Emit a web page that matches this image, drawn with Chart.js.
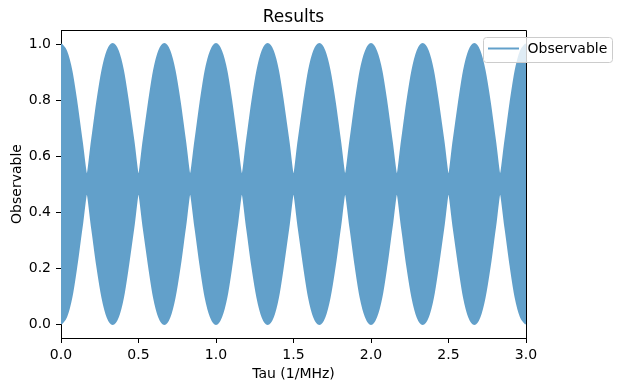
<!DOCTYPE html>
<html>
<head>
<meta charset="utf-8">
<script src="https://cdn.jsdelivr.net/npm/chart.js@4/dist/chart.umd.min.js"></script>
<style>
  body { margin: 0; background: #fff; }
</style>
</head>
<body>
<canvas id="chart" width="622" height="391"></canvas>
<script>
// Tau values (1/MHz)
const tau = [
    0, 0.033, 0.067, 0.1, 0.133, 0.167, 0.2, 0.233, 0.267, 0.3,
    0.333, 0.367, 0.4, 0.433, 0.467, 0.5, 0.533, 0.567, 0.6, 0.633,
    0.667, 0.7, 0.733, 0.767, 0.8, 0.833, 0.867, 0.9, 0.933, 0.967,
    1.0, 1.033, 1.067, 1.1, 1.133, 1.167, 1.2, 1.233, 1.267, 1.3,
    1.333, 1.367, 1.4, 1.433, 1.467, 1.5, 1.533, 1.567, 1.6, 1.633,
    1.667, 1.7, 1.733, 1.767, 1.8, 1.833, 1.867, 1.9, 1.933, 1.967,
    2.0, 2.033, 2.067, 2.1, 2.133, 2.167, 2.2, 2.233, 2.267, 2.3,
    2.333, 2.367, 2.4, 2.433, 2.467, 2.5, 2.533, 2.567, 2.6, 2.633,
    2.667, 2.7, 2.733, 2.767, 2.8, 2.833, 2.867, 2.9, 2.933, 2.967,
    3.0
];

// upper edge of the fast oscillation
const upperEnv = [
    1.0, 0.975, 0.905, 0.79, 0.655, 0.535, 0.655, 0.79, 0.905, 0.975,
    1.0, 0.975, 0.905, 0.79, 0.655, 0.535, 0.655, 0.79, 0.905, 0.975,
    1.0, 0.975, 0.905, 0.79, 0.655, 0.535, 0.655, 0.79, 0.905, 0.975,
    1.0, 0.975, 0.905, 0.79, 0.655, 0.535, 0.655, 0.79, 0.905, 0.975,
    1.0, 0.975, 0.905, 0.79, 0.655, 0.535, 0.655, 0.79, 0.905, 0.975,
    1.0, 0.975, 0.905, 0.79, 0.655, 0.535, 0.655, 0.79, 0.905, 0.975,
    1.0, 0.975, 0.905, 0.79, 0.655, 0.535, 0.655, 0.79, 0.905, 0.975,
    1.0, 0.975, 0.905, 0.79, 0.655, 0.535, 0.655, 0.79, 0.905, 0.975,
    1.0, 0.975, 0.905, 0.79, 0.655, 0.535, 0.655, 0.79, 0.905, 0.975,
    1.0
];

// lower edge
const lowerEnv = [
    0.0, 0.025, 0.095, 0.21, 0.345, 0.465, 0.345, 0.21, 0.095, 0.025,
    0.0, 0.025, 0.095, 0.21, 0.345, 0.465, 0.345, 0.21, 0.095, 0.025,
    0.0, 0.025, 0.095, 0.21, 0.345, 0.465, 0.345, 0.21, 0.095, 0.025,
    0.0, 0.025, 0.095, 0.21, 0.345, 0.465, 0.345, 0.21, 0.095, 0.025,
    0.0, 0.025, 0.095, 0.21, 0.345, 0.465, 0.345, 0.21, 0.095, 0.025,
    0.0, 0.025, 0.095, 0.21, 0.345, 0.465, 0.345, 0.21, 0.095, 0.025,
    0.0, 0.025, 0.095, 0.21, 0.345, 0.465, 0.345, 0.21, 0.095, 0.025,
    0.0, 0.025, 0.095, 0.21, 0.345, 0.465, 0.345, 0.21, 0.095, 0.025,
    0.0, 0.025, 0.095, 0.21, 0.345, 0.465, 0.345, 0.21, 0.095, 0.025,
    0.0
];

const xTicks = [0, 0.5, 1.0, 1.5, 2.0, 2.5, 3.0];
const yTicks = [0, 0.2, 0.4, 0.6, 0.8, 1.0];

const seriesColor = "#62a0ca";
const font = "DejaVu Sans";

// title, axis labels, frame and legend
const decorations = {
    id: "decorations",
    afterDraw(chart) {
        const ctx = chart.ctx;
        const a = chart.chartArea;
        const cx = (a.left + a.right) / 2;
        ctx.save();

        // top and right spines
        ctx.strokeStyle = "#000";
        ctx.lineWidth = 1;
        ctx.beginPath();
        ctx.moveTo(a.left, a.top + 0.5);
        ctx.lineTo(a.right + 0.5, a.top + 0.5);
        ctx.lineTo(a.right + 0.5, a.bottom);
        ctx.stroke();

        ctx.fillStyle = "#000";
        ctx.textAlign = "center";
        ctx.font = "17px '" + font + "'";
        ctx.textBaseline = "alphabetic";
        ctx.fillText("Results", cx, 22);

        ctx.font = "14px '" + font + "'";
        ctx.textBaseline = "middle";
        ctx.fillText("Tau (1/MHz)", cx, 374);

        ctx.translate(17, (a.top + a.bottom) / 2);
        ctx.rotate(-Math.PI / 2);
        ctx.fillText("Observable", 0, 0);
        ctx.restore();

        // legend box
        ctx.save();
        const lx = 483.5, ly = 37.5, lw = 129, lh = 25;
        ctx.beginPath();
        ctx.roundRect(lx, ly, lw, lh, 3);
        ctx.fillStyle = "rgba(255,255,255,0.8)";
        ctx.fill();
        ctx.strokeStyle = "#cccccc";
        ctx.lineWidth = 1;
        ctx.stroke();

        ctx.strokeStyle = seriesColor;
        ctx.lineWidth = 2;
        ctx.beginPath();
        ctx.moveTo(488, 48.5);
        ctx.lineTo(519, 48.5);
        ctx.stroke();

        ctx.fillStyle = "#000";
        ctx.font = "14px '" + font + "'";
        ctx.textAlign = "left";
        ctx.textBaseline = "middle";
        ctx.fillText("Observable", 527.5, 49);
        ctx.restore();
    }
};

new Chart(document.getElementById("chart"), {
    type: "line",
    data: {
        datasets: [
            {
                label: "Observable",
                data: tau.map((t, i) => ({ x: t, y: upperEnv[i] })),
                borderColor: seriesColor,
                backgroundColor: seriesColor,
                borderWidth: 2,
                pointRadius: 0,
                cubicInterpolationMode: "monotone",
                fill: "+1"
            },
            {
                label: "lower",
                data: tau.map((t, i) => ({ x: t, y: lowerEnv[i] })),
                borderColor: seriesColor,
                borderWidth: 2,
                pointRadius: 0,
                cubicInterpolationMode: "monotone",
                fill: false
            }
        ]
    },
    options: {
        responsive: false,
        animation: false,
        layout: { padding: { left: 0, right: 96, top: 30, bottom: 0 } },
        plugins: {
            legend: { display: false },
            tooltip: { enabled: false }
        },
        scales: {
            x: {
                type: "linear",
                min: 0,
                max: 3,
                afterBuildTicks: s => { s.ticks = xTicks.map(v => ({ value: v })); },
                afterFit: s => { s.height = 53; },
                grid: { display: true, drawOnChartArea: false, drawTicks: true, tickLength: 5, color: "#000" },
                border: { display: true, color: "#000", width: 1 },
                ticks: {
                    padding: 4,
                    color: "#000",
                    font: { family: font, size: 14 },
                    maxRotation: 0,
                    callback: v => v.toFixed(1)
                }
            },
            y: {
                type: "linear",
                min: -0.05,
                max: 1.05,
                afterBuildTicks: s => { s.ticks = yTicks.map(v => ({ value: v })); },
                afterFit: s => { s.width = 61; },
                grid: { display: true, drawOnChartArea: false, drawTicks: true, tickLength: 5, color: "#000" },
                border: { display: true, color: "#000", width: 1 },
                ticks: {
                    padding: 5,
                    color: "#000",
                    font: { family: font, size: 14 },
                    callback: v => v.toFixed(1)
                }
            }
        }
    },
    plugins: [decorations]
});
</script>
</body>
</html>
